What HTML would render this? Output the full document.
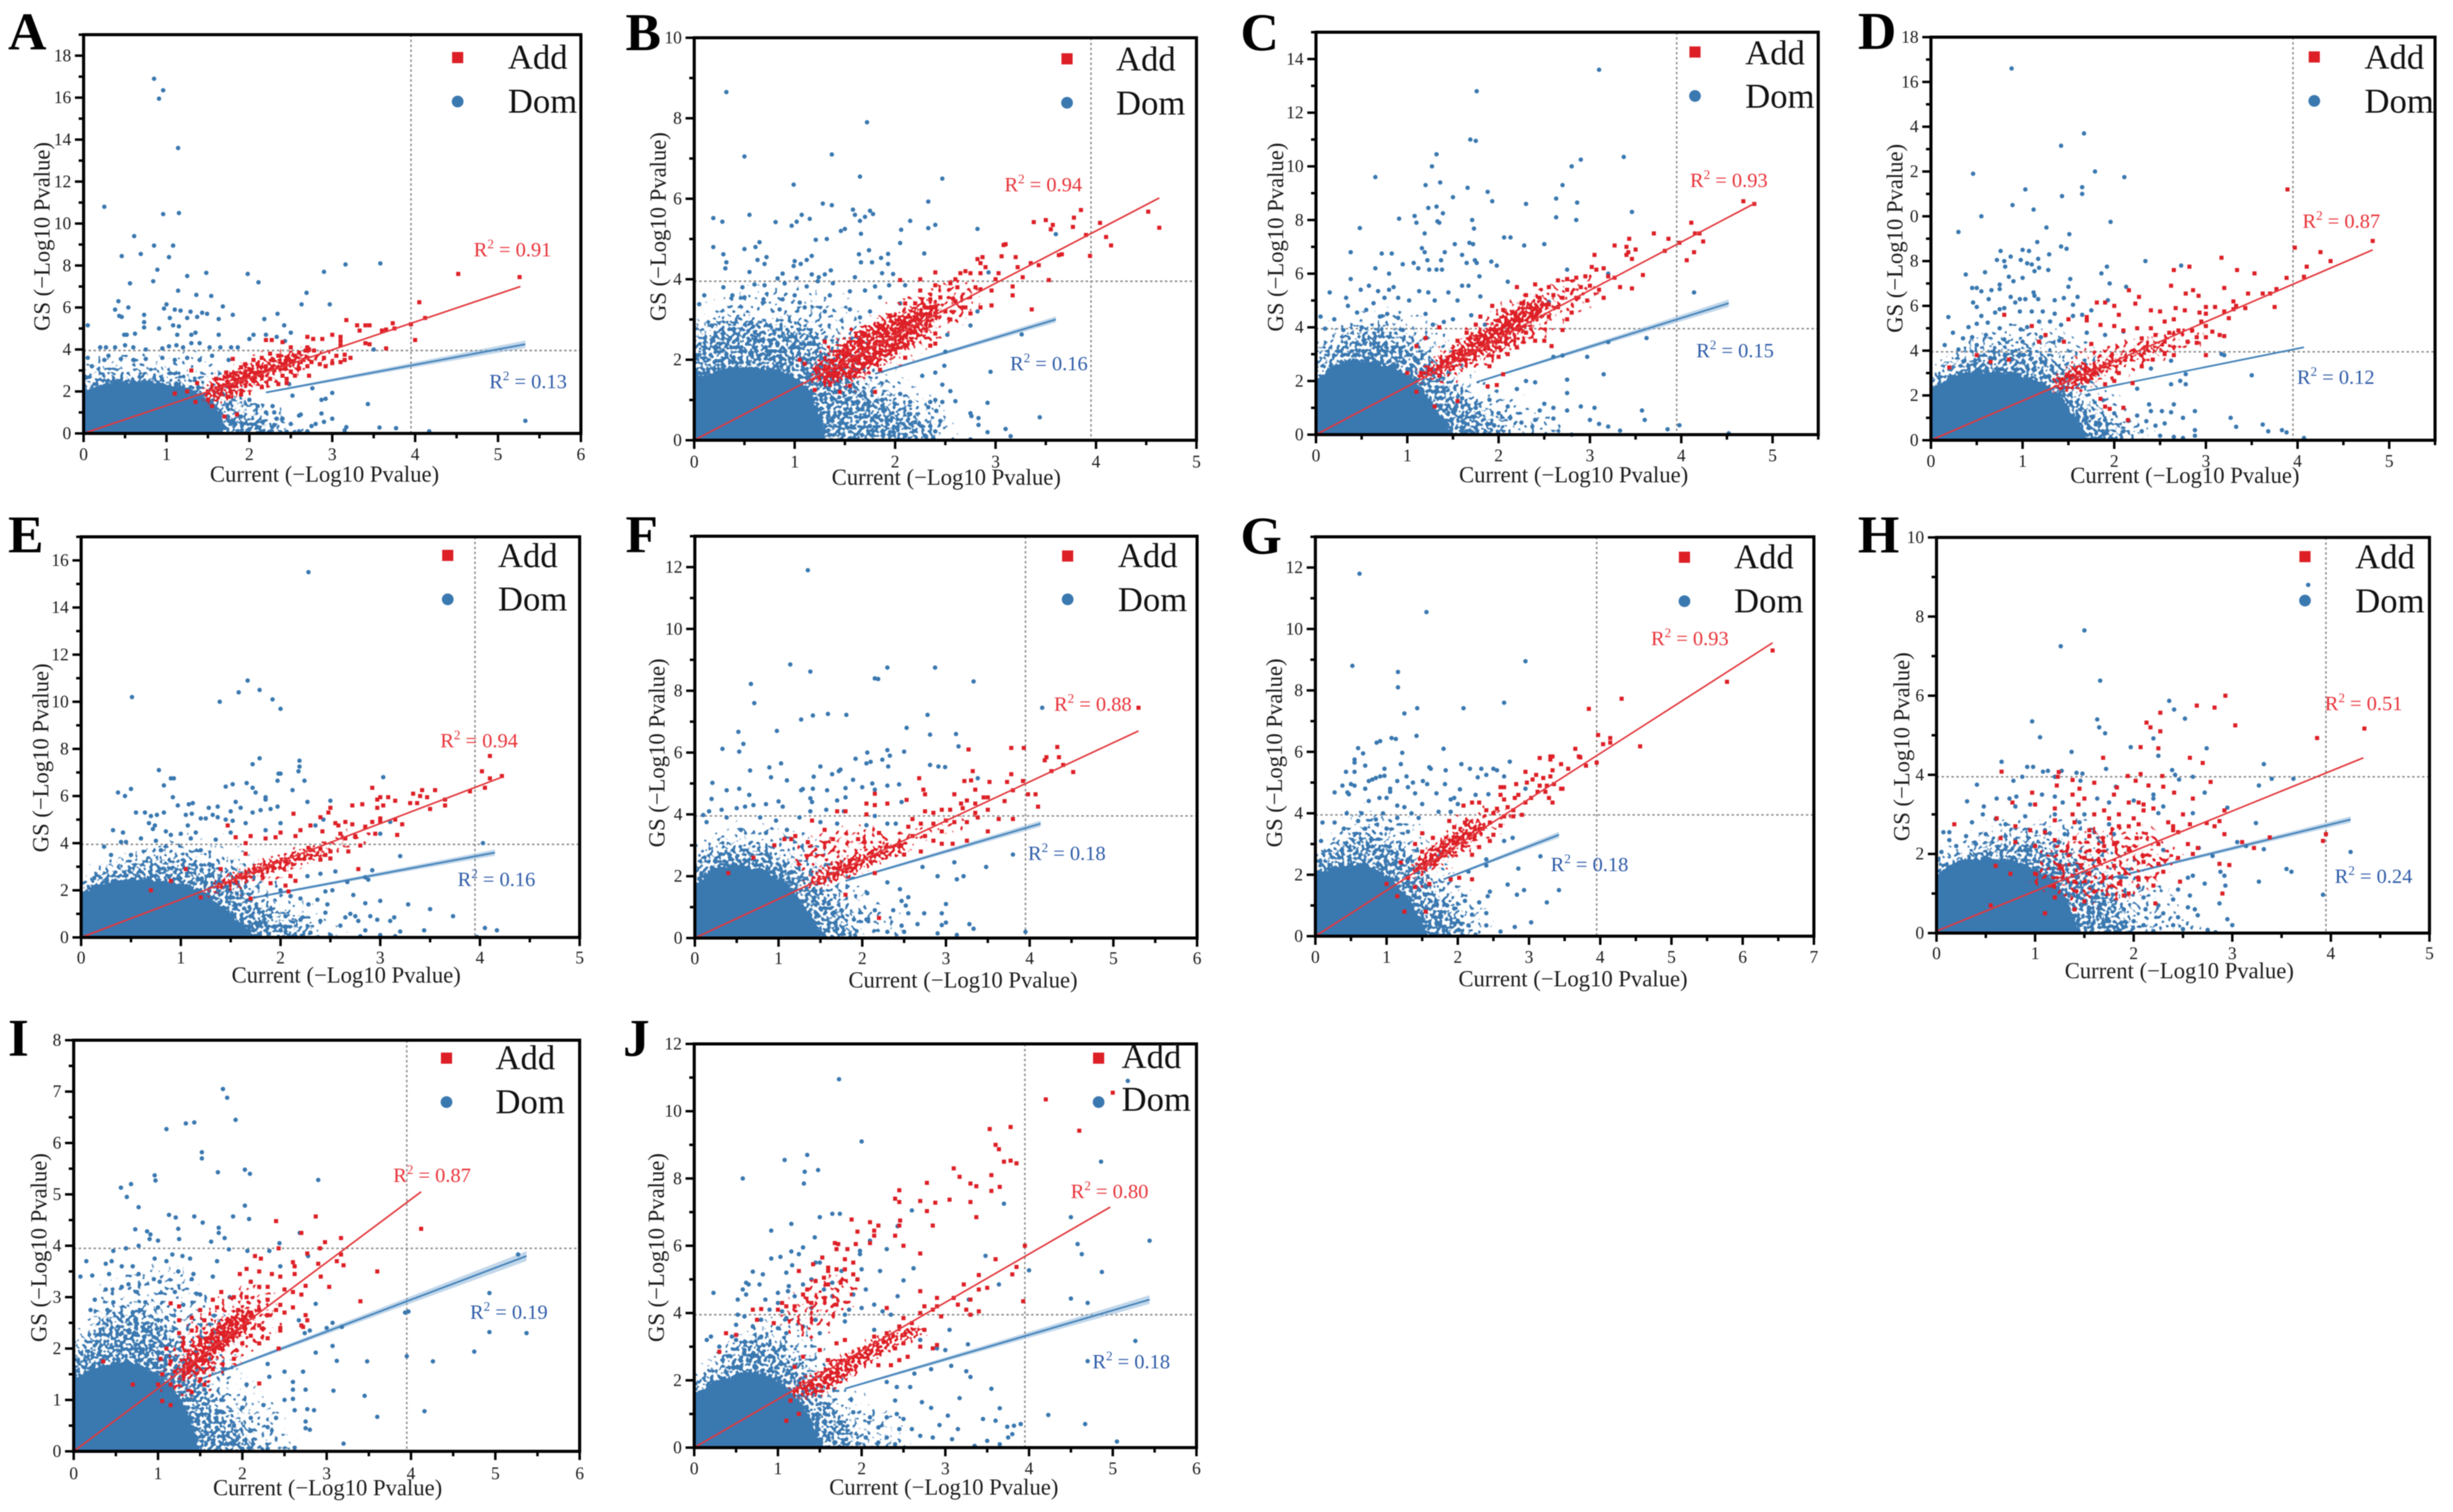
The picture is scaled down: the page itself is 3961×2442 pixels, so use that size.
<!DOCTYPE html>
<html lang="en">
<head>
<meta charset="utf-8">
<title>GS vs Current association scatter panels</title>
<style>
html,body{margin:0;padding:0;background:#fff;}
#figure{display:block;width:3961px;height:2442px;background:#fff;filter:blur(0.7px);font-family:"Liberation Serif",serif;}
</style>
</head>
<body>
<svg id="figure" xmlns="http://www.w3.org/2000/svg" width="3961" height="2442" viewBox="0 0 3961 2442">
<defs>
<filter id="stipple-fringe" x="-15%" y="-15%" width="130%" height="130%" color-interpolation-filters="sRGB">
<feGaussianBlur in="SourceAlpha" stdDeviation="16" result="soft"/>
<feTurbulence type="fractalNoise" baseFrequency="0.14" numOctaves="1" seed="17" result="t"/>
<feColorMatrix in="t" type="matrix" values="0 0 0 0 0 0 0 0 0 0 0 0 0 0 0 0 0 0 1 0" result="n"/>
<feComposite in="soft" in2="n" operator="arithmetic" k1="0" k2="0.36" k3="1" k4="-0.95" result="m"/>
<feComponentTransfer in="m" result="mask"><feFuncA type="linear" slope="14" intercept="0"/></feComponentTransfer>
<feFlood flood-color="#3a78b0"/>
<feComposite in2="mask" operator="in"/>
</filter>
<filter id="stipple-halo" x="-15%" y="-15%" width="130%" height="130%" color-interpolation-filters="sRGB">
<feGaussianBlur in="SourceAlpha" stdDeviation="20" result="soft"/>
<feTurbulence type="fractalNoise" baseFrequency="0.17" numOctaves="1" seed="11" result="t"/>
<feColorMatrix in="t" type="matrix" values="0 0 0 0 0 0 0 0 0 0 0 0 0 0 0 0 0 0 1 0" result="n"/>
<feComposite in="soft" in2="n" operator="arithmetic" k1="0" k2="0.5" k3="1" k4="-0.95" result="m"/>
<feComponentTransfer in="m" result="mask"><feFuncA type="linear" slope="14" intercept="0"/></feComponentTransfer>
<feFlood flood-color="#3a78b0"/>
<feComposite in2="mask" operator="in"/>
</filter>
<filter id="stipple-core" x="-15%" y="-15%" width="130%" height="130%" color-interpolation-filters="sRGB">
<feGaussianBlur in="SourceAlpha" stdDeviation="7" result="soft"/>
<feTurbulence type="fractalNoise" baseFrequency="0.17" numOctaves="1" seed="5" result="t"/>
<feColorMatrix in="t" type="matrix" values="0 0 0 0 0 0 0 0 0 0 0 0 0 0 0 0 0 0 1 0" result="n"/>
<feComposite in="soft" in2="n" operator="arithmetic" k1="0" k2="1.1" k3="1" k4="-0.95" result="m"/>
<feComponentTransfer in="m" result="mask"><feFuncA type="linear" slope="14" intercept="0"/></feComponentTransfer>
<feFlood flood-color="#3a78b0"/>
<feComposite in2="mask" operator="in"/>
</filter>
<filter id="stipple-add" x="-25%" y="-25%" width="150%" height="150%" color-interpolation-filters="sRGB">
<feGaussianBlur in="SourceAlpha" stdDeviation="9" result="soft"/>
<feTurbulence type="fractalNoise" baseFrequency="0.2" numOctaves="1" seed="3" result="t"/>
<feColorMatrix in="t" type="matrix" values="0 0 0 0 0 0 0 0 0 0 0 0 0 0 0 0 0 0 1 0" result="n"/>
<feComposite in="soft" in2="n" operator="arithmetic" k1="0" k2="0.6" k3="1" k4="-1" result="m"/>
<feComponentTransfer in="m" result="mask"><feFuncA type="linear" slope="14" intercept="0"/></feComponentTransfer>
<feFlood flood-color="#dd1f26"/>
<feComposite in2="mask" operator="in"/>
</filter>
<filter id="stipple-add-sparse" x="-25%" y="-25%" width="150%" height="150%" color-interpolation-filters="sRGB">
<feGaussianBlur in="SourceAlpha" stdDeviation="14" result="soft"/>
<feTurbulence type="fractalNoise" baseFrequency="0.14" numOctaves="1" seed="9" result="t"/>
<feColorMatrix in="t" type="matrix" values="0 0 0 0 0 0 0 0 0 0 0 0 0 0 0 0 0 0 1 0" result="n"/>
<feComposite in="soft" in2="n" operator="arithmetic" k1="0" k2="0.4" k3="1" k4="-0.95" result="m"/>
<feComponentTransfer in="m" result="mask"><feFuncA type="linear" slope="14" intercept="0"/></feComponentTransfer>
<feFlood flood-color="#dd1f26"/>
<feComposite in2="mask" operator="in"/>
</filter>
</defs>
</svg>
<script>
/* ---------- chart values (x = Current, y = GS) ---------- */
const xTicksA=[0,1,2,3,4,5,6];const yTicksA=[0,2,4,6,8,10,12,14,16,18];const yLabelsA=['0','2','4','6','8','10','12','14','16','18'];
const xTicksB=[0,1,2,3,4,5];const yTicksB=[0,2,4,6,8,10];const yLabelsB=['0','2','4','6','8','10'];
const xTicksC=[0,1,2,3,4,5];const yTicksC=[0,2,4,6,8,10,12,14];const yLabelsC=['0','2','4','6','8','10','12','14'];
const xTicksD=[0,1,2,3,4,5];const yTicksD=[0,2,4,6,8,10,12,14,16,18];const yLabelsD=['0','2','4','6','8','0','2','4','16','18'];
const xTicksE=[0,1,2,3,4,5];const yTicksE=[0,2,4,6,8,10,12,14,16];const yLabelsE=['0','2','4','6','8','10','12','14','16'];
const xTicksF=[0,1,2,3,4,5,6];const yTicksF=[0,2,4,6,8,10,12];const yLabelsF=['0','2','4','6','8','10','12'];
const xTicksG=[0,1,2,3,4,5,6,7];const yTicksG=[0,2,4,6,8,10,12];const yLabelsG=['0','2','4','6','8','10','12'];
const xTicksH=[0,1,2,3,4,5];const yTicksH=[0,2,4,6,8,10];const yLabelsH=['0','2','4','6','8','10'];
const xTicksI=[0,1,2,3,4,5,6];const yTicksI=[0,1,2,3,4,5,6,7,8];const yLabelsI=['0','1','2','3','4','5','6','7','8'];
const xTicksJ=[0,1,2,3,4,5,6];const yTicksJ=[0,2,4,6,8,10,12];const yLabelsJ=['0','2','4','6','8','10','12'];

const addFitA=[[0,0],[5.27,7]];const domFitA=[[2.2,1.95],[5.33,4.25]];const r2A=['0.91','0.13'];
const addFitB=[[0,0],[4.63,6.02]];const domFitB=[[1.8,1.65],[3.6,3]];const r2B=['0.94','0.16'];
const addFitC=[[0,0],[4.82,8.65]];const domFitC=[[1.8,2],[4.52,4.9]];const r2C=['0.93','0.15'];
const addFitD=[[0,0],[4.82,8.5]];const domFitD=[[1.7,2.2],[4.07,4.15]];const r2D=['0.87','0.12'];
const addFitE=[[0,0],[4.22,6.8]];const domFitE=[[1.75,1.7],[4.15,3.6]];const r2E=['0.94','0.16'];
const addFitF=[[0,0],[5.3,6.7]];const domFitF=[[1.8,1.85],[4.13,3.7]];const r2F=['0.88','0.18'];
const addFitG=[[0,0],[6.42,9.55]];const domFitG=[[1.8,1.85],[3.42,3.3]];const r2G=['0.93','0.18'];
const addFitH=[[0,.05],[4.33,4.43]];const domFitH=[[1.7,1.35],[4.2,2.87]];const r2H=['0.51','0.24'];
const addFitI=[[0,0],[4.12,5.05]];const domFitI=[[1.5,1.4],[5.37,3.8]];const r2I=['0.87','0.19'];
const addFitJ=[[0,0],[4.97,7.15]];const domFitJ=[[1.8,1.75],[5.44,4.4]];const r2J=['0.80','0.18'];

/* upper outline of the overplotted Dom point mass: solid core, stippled halo, sparse fringe */
const domCoreA=[[0,1.9],[.2,2.3],[.5,2.5],[.9,2.4],[1.2,2.2],[1.4,1.9],[1.55,1.4],[1.65,.8],[1.7,0]];
const domHaloA=[[0,3],[.1,3.4],[.5,3.3],[.9,3.4],[1.2,3.2],[1.5,2.8],[1.8,2],[2.1,1.4],[2.4,.8],[2.6,0]];
const domFringeA=[[0,3.7],[.3,4.1],[1,4.2],[1.6,4.1],[2,2.5],[2.4,1.4],[2.7,.7],[2.9,0]];
const domCoreB=[[0,1.5],[.3,1.8],[.7,1.8],[1,1.6],[1.15,1.2],[1.25,.6],[1.3,0]];
const domHaloB=[[0,2.8],[.1,3.2],[.5,3.3],[.9,3.2],[1.3,3],[1.45,2.4],[1.7,1.6],[2,1.2],[2.3,.9],[2.5,0]];
const domFringeB=[[0,3.4],[.3,3.9],[1,4],[1.6,3.7],[1.9,2.2],[2.3,1.4],[2.6,.9],[2.7,0]];
const domCoreC=[[0,2],[.2,2.6],[.5,2.8],[.8,2.6],[1.05,2.1],[1.2,1.5],[1.35,.8],[1.5,0]];
const domHaloC=[[0,3],[.1,3.6],[.4,4.3],[.8,4.3],[1.1,4],[1.35,3],[1.7,1.7],[2,1],[2.3,0]];
const domFringeC=[[0,3.8],[.3,4.7],[.9,5],[1.4,4.3],[1.8,2.5],[2.3,1.4],[2.7,.8],[2.9,0]];
const domCoreD=[[0,2.2],[.2,2.8],[.5,3.1],[.9,3],[1.2,2.6],[1.4,2],[1.55,1.2],[1.7,0]];
const domHaloD=[[0,3],[.1,3.6],[.4,4.4],[.8,4.8],[1.2,4.5],[1.6,3.5],[1.8,1.9],[2.1,1],[2.4,0]];
const domFringeD=[[0,3.6],[.3,4.8],[.9,5.6],[1.4,5.3],[1.8,4.5],[2.1,2],[2.4,1.1],[2.6,0]];
const domCoreE=[[0,1.9],[.2,2.3],[.6,2.5],[1,2.3],[1.25,1.8],[1.45,1.2],[1.6,.6],[1.75,0]];
const domHaloE=[[0,2.7],[.1,3.2],[.4,3.5],[.8,4],[1.2,3.8],[1.6,3],[1.9,1.7],[2.2,1],[2.5,0]];
const domFringeE=[[0,3],[.4,3.8],[.9,4.6],[1.4,4.5],[1.8,3.6],[2.1,2],[2.5,1.3],[2.8,0]];
const domCoreF=[[0,1.7],[.2,2.2],[.5,2.4],[.8,2.2],[1.1,1.8],[1.25,1.2],[1.4,.6],[1.55,0]];
const domHaloF=[[0,2.7],[.2,3.3],[.5,3.4],[.9,3.3],[1.3,2.7],[1.6,1.9],[1.9,1],[2.1,0]];
const domFringeF=[[0,3.4],[.4,3.9],[1,3.9],[1.5,3.5],[1.9,2.5],[2.2,1.5],[2.5,.7],[2.7,0]];
const domCoreG=[[0,2],[.3,2.3],[.7,2.3],[1,2],[1.25,1.4],[1.45,.7],[1.6,0]];
const domHaloG=[[0,2.9],[.2,3.2],[.5,3.8],[.9,3.7],[1.4,3.1],[1.7,2.2],[2,1.3],[2.2,.5],[2.4,0]];
const domFringeG=[[0,3.2],[.4,4.2],[.9,4.5],[1.5,3.9],[1.9,2.8],[2.3,1.6],[2.5,.8],[2.6,0]];
const domCoreH=[[0,1.3],[.1,1.7],[.4,1.9],[.8,1.8],[1.1,1.5],[1.3,1],[1.45,0]];
const domHaloH=[[0,2],[.3,2.3],[.7,2.7],[1.1,2.6],[1.5,2.1],[1.8,1.3],[2,.7],[2.2,0]];
const domFringeH=[[0,2.2],[.4,3],[1,3.2],[1.6,3],[2,2.2],[2.4,1.2],[2.7,.4],[2.85,0]];
const domCoreI=[[0,1.4],[.2,1.6],[.6,1.75],[.9,1.6],[1.15,1.3],[1.35,.8],[1.5,0]];
const domHaloI=[[0,2.1],[.2,2.7],[.6,3],[1,2.9],[1.35,2.3],[1.6,1.5],[1.9,.9],[2.2,.4],[2.4,0]];
const domFringeI=[[0,2.4],[.3,3.4],[.9,3.8],[1.4,3.7],[1.9,2.7],[2.1,1.5],[2.5,.9],[2.7,0]];
const domCoreJ=[[0,1.6],[.3,2],[.7,2.3],[1,2],[1.25,1.4],[1.4,.8],[1.55,0]];
const domHaloJ=[[0,2.2],[.3,3.1],[.6,3.7],[1,3.5],[1.35,2.8],[1.6,1.8],[1.9,1],[2.2,0]];
const domFringeJ=[[0,2.2],[.4,3.5],[.8,4.1],[1.3,4.2],[1.7,2.8],[2.1,1.6],[2.5,1],[2.7,0]];

/* outline of the overplotted Add cluster and its looser surroundings */
const addCoreA=[[1.35,1.7],[1.5,2.6],[1.75,3.2],[2.1,3.6],[2.5,4],[2.8,4.05],[2.8,3.3],[2.4,2.8],[2.1,2.1],[1.8,1.6],[1.55,1.2]];
const addCoreB=[[1.05,1.6],[1.35,2.3],[1.65,2.9],[2,3.2],[2.35,3.6],[2.55,3.4],[2.4,2.7],[2.05,2.05],[1.65,1.5],[1.3,1.2]];
const addCoreC=[[1.05,2.3],[1.4,3.2],[1.75,4],[2.1,4.8],[2.45,5.3],[2.7,4.9],[2.4,4],[2.1,3.1],[1.7,2.5],[1.3,2],[1.05,1.7]];
const addCoreD=[[1.3,2.9],[1.6,3.6],[1.95,3.8],[2.3,4.4],[2.6,4.8],[2.65,4.1],[2.3,3.6],[2,3],[1.75,2.4],[1.45,2],[1.25,2.1]];
const addCoreE=[[1.2,2],[1.5,2.9],[1.85,3.4],[2.25,3.9],[2.5,4.05],[2.5,3.4],[2.1,2.8],[1.7,2.3],[1.35,1.7],[1.2,1.5]];
const addCoreF=[[1.3,2],[1.6,2.5],[1.95,2.9],[2.3,3.2],[2.6,3.3],[2.6,2.75],[2.25,2.4],[1.9,1.9],[1.55,1.6],[1.3,1.4]];
const addCoreG=[[1.3,2.4],[1.6,3],[1.95,3.6],[2.3,4],[2.5,3.8],[2.35,3.1],[2,2.6],[1.7,2.1],[1.35,1.8]];
const addCoreH=[];
const addCoreI=[[1.15,1.5],[1.35,2.1],[1.65,2.55],[2,2.9],[2.25,2.8],[2.1,2.3],[1.8,1.9],[1.55,1.45],[1.3,1.25]];
const addCoreJ=[[1.05,1.8],[1.4,2.3],[1.75,2.85],[2.1,3.3],[2.4,3.6],[2.75,3.8],[2.8,3.3],[2.4,2.9],[2.1,2.4],[1.8,1.85],[1.5,1.4],[1.2,1.35]];
const addLooseA=[[1.3,1.4],[1.5,2.9],[2,3.9],[2.6,4.4],[3.2,4.2],[3.2,3.3],[2.6,2.5],[2.2,1.8],[1.7,1]];
const addLooseB=[[1,1.4],[1.3,2.5],[1.8,3.3],[2.4,4],[2.9,4.3],[2.9,3.2],[2.5,2.4],[2,1.7],[1.5,1.1]];
const addLooseC=[[1,1.8],[1.4,3.6],[2,5],[2.7,6],[3.2,6.2],[3.2,5.1],[2.8,4.1],[2.4,3.2],[1.9,2.3],[1.3,1.6]];
const addLooseD=[[1.25,2.6],[1.6,4.3],[2.2,4.9],[3,5.4],[3.2,4.4],[2.6,3.5],[2.1,2.6],[1.6,1.9]];
const addLooseE=[[1.2,1.8],[1.6,3.3],[2.2,4.2],[2.9,4.9],[3.1,4.3],[2.6,3.4],[2.1,2.4],[1.6,1.7]];
const addLooseF=[[1,2.2],[1.2,3.3],[1.8,3.8],[2.5,3.6],[3.3,4.2],[3.5,3.6],[2.7,2.9],[2,2.4],[1.4,1.8]];
const addLooseG=[[1.2,2],[1.6,3.3],[2.2,4.3],[2.9,4.6],[2.8,3.7],[2.3,2.8],[1.9,2],[1.4,1.4]];
const addLooseH=[[.8,1.2],[1.1,2.4],[1.7,2.9],[2.3,2.8],[2.6,1.8],[2.1,.8],[1.4,.6]];
const addLooseI=[[1,1.2],[1.1,2.2],[1.5,2.8],[2,3.4],[2.4,3.3],[2.6,2.6],[2.3,2],[1.9,1.5],[1.5,1],[1.1,.9]];
const addLooseJ=[[.9,3.9],[1.3,5],[1.9,5.5],[2.1,4.5],[1.7,3.5],[1.2,2.9]];

/* individually readable points */
const domA=[[.85,16.9],[.91,15.95],[.96,16.35],[1.14,13.6],[.25,10.8],[.96,10.45],[1.15,10.5],[.61,9.4],[.85,8.95],[1.08,8.95],[.69,8.55],[.46,8.45],[1.03,8.4],[.89,7.8],[1.25,7.5],[1.48,7.65],[1.98,7.6],[2.11,7.2],[.56,7.15],[.84,7.25],[2.9,7.7],[3.16,8.05],[3.58,8.1],[1.14,6.8],[1.36,6.6],[1.54,6.55],[2.69,6.7],[.42,6.3],[1,6.15],[.97,5.95],[.54,6],[1.68,6.05],[2.63,6.15],[2.97,6.15],[.38,5.9],[.43,5.6],[.46,5.55],[.73,5.65],[1.1,5.9],[1.17,5.85],[1.29,5.8],[1.43,5.75],[1.49,5.7],[1.37,5.55],[1.25,5.5],[1.04,5.5],[1.8,5.65],[1.63,5.45],[2.18,5.45],[2.34,5.7],[2.42,5.15],[.05,5.15],[.73,5.3],[.73,5.05],[.91,5],[1.08,5.15],[1.15,5.1],[2.5,4.8],[.52,4.7],[.49,4.7],[.62,4.75],[1.13,4.7],[1.3,4.7],[1.35,4.8],[1.63,4.7],[2.05,4.7],[2.2,4.7],[2.33,4.6],[2.43,4.4],[.2,4.1],[.27,4.1],[.38,4.1],[.5,4.2],[.6,4.1],[.75,4],[.95,4.05],[1.03,4.15],[1.12,4.2],[1.2,4.1],[1.3,4.3],[1.4,4.3],[1.52,4.1],[1.65,4.1],[1.78,4.1],[1.86,4.1],[2,4.5],[.3,3.7],[.45,3.55],[.6,3.5],[.75,3.55],[.95,3.6],[1.1,3.5],[1.25,3.6],[1.4,3.5],[1.55,3.7],[1.75,3.5],[.05,3.6],[.1,3.2],[.25,3.5],[3.43,1.4],[3,1.93],[2.92,1.65],[2.87,1.6],[2.76,2.15],[2.52,1.8],[2.48,2.35],[2.87,.95],[2.62,.9],[2.6,.85],[3,.7],[2.9,.55],[2.8,.45],[2.75,.35],[2.5,.45],[2.4,.7],[2.33,.7],[2.3,1],[2.28,1.3],[2.2,1],[2.1,1.3],[2,1.6],[2.3,.4],[3.17,.3],[3.15,.15],[3.57,.28],[3.77,.25],[4.17,.1],[5.33,.6],[2.6,.1],[2.7,.1],[2.45,.08],[3.5,4],[2.1,.3],[1.9,.8],[1.75,.6],[2,.2]];
const addA=[[4.52,7.6],[5.26,7.45],[4.05,6.25],[4.12,5.5],[3.17,5.4],[3.3,5.15],[3.4,5.15],[3.45,5.15],[3.33,4.9],[3.6,4.9],[3.65,4.95],[3.73,5.25],[3.75,5],[3.95,5.2],[4,4.45],[3.65,4.05],[3.4,4.3],[3.45,4.25],[3,4.7],[3.1,4.6],[3.1,4.4],[3.1,4.2],[2.7,4.6],[2.77,4.5],[2.88,4.5],[2.7,4.1],[2.2,4.45],[2.27,4.45],[2.4,4.35],[2.5,4.1],[2.6,3.85],[2.68,3.95],[2.72,4],[2.78,3.95],[2.55,3.7],[2.45,3.6],[2.35,3.7],[2.25,3.8],[2.15,3.6],[2.05,3.5],[1.95,3.3],[1.8,3.55],[1.9,3.15],[2.4,3.3],[2.5,3.4],[2.65,3.5],[2.75,3.4],[2.9,3.6],[3.05,3.7],[3.15,3.75],[3.22,3.6],[3.15,3.5],[3.1,3.4],[3,3.35],[2.92,3.2],[2.85,3.3],[2.7,3.2],[2.6,3.1],[2.5,2.95],[2.4,2.75],[2.3,3],[2.2,3.2],[2.15,2.9],[2.25,2.6],[2.45,2.6],[2.55,2.75],[2.72,2.75],[2.35,2.35],[2.45,2.4],[2.15,2.2],[2.05,2.5],[1.3,3],[1.37,2.4],[1.25,2],[1.1,1.9],[1.35,1.5],[1.5,1.6],[1.6,2.6],[1.72,2.9],[1.5,2],[1.7,.8],[1.85,.9],[1.55,1.3],[1.95,2.9],[2,3.05],[1.85,2.55],[1.75,1.75],[1.9,1.85],[2.1,3.3]];

const domB=[[.32,8.65],[1.72,7.9],[.5,7.05],[1.37,7.1],[1.65,6.55],[2.47,6.5],[.99,6.35],[2.33,5.93],[1.28,5.88],[1.37,5.84],[.55,5.6],[1.07,5.6],[1.15,5.5],[.19,5.52],[.28,5.43],[.81,5.42],[.97,5.33],[1.02,5.43],[1.58,5.73],[1.6,5.6],[1.7,5.55],[1.75,5.7],[1.65,5.45],[1.78,5.62],[2.15,5.45],[2.06,5.23],[2.33,5.27],[2.4,5.35],[2.82,5.25],[1.5,5.25],[1.46,5.2],[1.66,5.13],[1.21,4.98],[1.32,5],[2.05,4.9],[.19,4.8],[.5,4.75],[.65,4.92],[.61,4.8],[.29,4.62],[1.64,4.62],[1.74,4.72],[1.86,4.53],[1.93,4.63],[2.29,4.64],[.32,4.42],[.63,4.48],[.72,4.55],[.7,4.38],[.99,4.33],[1,4.45],[1.06,4.38],[1.12,4.48],[1.17,4.58],[1.66,4.42],[1.77,4.42],[1.93,4.38],[.31,4.27],[.55,4.18],[.88,4.14],[1.17,4.12],[1.24,4.05],[1.3,4.12],[1.36,4.22],[1.6,4.05],[1.87,4.15],[1.98,4.13],[.83,4.02],[.9,3.9],[.7,3.85],[.29,3.8],[.48,3.8],[.6,3.87],[1.02,4.03],[1.12,3.82],[1.23,3.95],[1.38,3.9],[1.7,3.72],[1.8,3.82],[1.94,3.85],[2.1,3.85],[.1,3.6],[.38,3.6],[.5,3.55],[.69,3.5],[.88,3.5],[1,3.6],[1.05,3.42],[1.35,3.6],[1.55,3.7],[1.85,3.55],[.05,3.38],[.85,3.25],[1.1,3.3],[1.3,3.2],[1.55,3.25],[1.65,3.05],[1.75,3.2],[2.05,3.4],[2.82,3.2],[2.93,4.17],[2.75,2.85],[3.26,2.63],[3.6,5.12],[2.52,2.62],[2.5,2.2],[2.95,1.7],[2.49,1.85],[2.4,1.68],[2.27,1.6],[2.47,1.38],[2.55,1.22],[2.6,.97],[2.35,.95],[2.4,1],[2.47,.95],[2.92,.93],[2.33,.82],[2.41,.73],[2.75,.67],[2.76,.6],[2.83,.55],[3.44,.57],[2.45,.48],[2.15,.65],[2,.9],[2.05,1.15],[2.15,.95],[2.2,.45],[2.35,.35],[2.4,.22],[2.83,.38],[2.92,.2],[3.1,.28],[3.15,.1],[2.75,.02],[2.38,.05],[2.3,.1],[1.8,.6],[1.9,.75],[1.7,.9],[1.6,1.2],[1.5,.65],[1.75,.35],[1.95,.2],[2.1,.1]];
const addB=[[4.52,5.68],[4.63,5.28],[3.85,5.72],[3.78,5.53],[3.38,5.42],[3.5,5.47],[3.57,5.35],[3.55,5.24],[3.77,5.3],[4.04,5.4],[3.9,5.1],[4.1,5.05],[4.15,4.84],[3.94,4.58],[3.63,4.6],[3.66,4.62],[3.08,4.85],[3.1,4.87],[3.06,4.57],[3.2,4.55],[2.82,4.5],[2.87,4.55],[2.85,4.4],[2.9,4.3],[3.22,4.3],[3.35,4.4],[3.43,4.35],[3.27,4.05],[3.53,3.98],[2.4,4.17],[2.65,4.15],[2.7,4.2],[2.75,4.15],[2.85,4.15],[3,4],[3.03,4.15],[2.6,4],[2.25,4],[2.05,3.98],[2.4,3.85],[2.55,3.9],[2.62,3.8],[2.8,3.8],[2.85,3.75],[2.96,3.72],[3.17,3.82],[3.17,3.6],[2.25,3.72],[2.35,3.5],[2.45,3.55],[2.6,3.45],[2.7,3.3],[2.75,3.15],[2.85,3.3],[2.96,3.35],[3.36,3.25],[2.2,3.4],[2.3,3.3],[2.4,3.15],[2.5,3.2],[2.55,3],[2.1,3.4],[1.95,3.1],[1.85,2.85],[2.4,2.65],[2.1,2.6],[2.2,2.7],[2.35,2.35],[2.4,2.4],[1.7,2.65],[1.8,2.4],[2,2.25],[2.1,2.05],[1.6,1.6],[1.3,2.45],[1.1,1.9],[1.2,1.25],[1.45,1.2],[1.8,1.2],[1.85,1.75],[1.05,2],[1.55,1.35]];

const domC=[[3.1,13.6],[1.76,12.8],[1.69,11],[1.75,10.95],[1.32,10.45],[1.27,10],[3.37,10.35],[2.9,10.25],[2.8,10],[.65,9.6],[1.36,9.4],[1.2,9.3],[1.66,9.2],[2.7,9.3],[1.5,8.85],[1.88,9.05],[1.93,8.7],[2.63,8.8],[2.86,8.65],[1.32,8.5],[1.23,8.45],[2.3,8.6],[1.39,8.25],[1.08,8.15],[1.1,7.9],[.91,8.05],[1.71,8],[1.33,7.95],[1.35,7.9],[2.63,8.1],[2.85,8],[3.46,8.3],[.48,7.7],[1.19,7.5],[1.73,7.68],[2.06,7.35],[2.13,7.35],[1.68,7.15],[1.72,7.1],[2.28,7.05],[2.5,7.1],[1.52,7.1],[1.16,6.95],[1.19,6.8],[1.41,6.8],[.38,6.8],[.72,6.75],[.83,6.75],[1.6,6.7],[1.65,6.4],[1.74,6.5],[1.76,6.4],[1.92,6.45],[1.98,6.3],[.95,6.35],[1.07,6.4],[1.22,6.5],[1.37,6.5],[.65,6.2],[.8,6],[1.12,6.2],[1.24,6.15],[1.32,6.15],[1.38,6.15],[2.75,6.15],[.38,5.8],[1.79,5.9],[2.1,5.7],[3.2,6],[.15,5.3],[.33,5.1],[.49,5.4],[.58,5.55],[.68,5.35],[.75,5.1],[.8,5.4],[.85,5.5],[.9,5.1],[1.02,5],[1.13,5.35],[1.23,5.3],[1.3,5],[1.45,5.3],[1.55,5],[1.6,5.55],[1.67,5.55],[1.8,5.15],[2.55,4.95],[.35,4.8],[.45,4.55],[.55,4.65],[.63,4.9],[.7,4.4],[.78,4.5],[.9,4.35],[1.2,4.5],[1.28,4.1],[1.4,4.2],[1.5,4.3],[1.7,4.45],[1.85,4.1],[2,4.25],[.05,4.4],[.2,4.3],[.1,3.95],[.3,3.9],[.5,4],[.95,3.9],[4.14,5.3],[3.62,3.6],[3.2,3.45],[2.6,2.9],[2.7,2.95],[2.97,2.9],[3.15,2.25],[2.75,2.05],[2.75,1.55],[2.5,1.15],[2.6,1],[2.9,1.05],[3.05,1],[3.57,.9],[2.75,.9],[2.45,.9],[2.3,2],[2.2,1.7],[2.4,1.95],[3,.55],[3.1,.4],[3.2,.3],[3.6,.55],[3.33,.15],[3.85,.2],[3.98,.35],[4.52,.05],[2.6,.6],[2.4,.55],[2.25,.45],[2,.8],[2.1,1.05],[1.9,1.3],[1.75,1],[1.6,1.35],[1.5,.85],[1.95,.35],[2.8,0]];
const addC=[[4.68,8.7],[4.8,8.6],[4.11,7.9],[4.15,7.5],[4.2,7.5],[4.24,7.2],[4.14,6.8],[4.06,6.5],[3.98,7.15],[3.86,7.3],[3.7,7.5],[3.43,7.3],[3.27,7.05],[3.4,7],[3.42,6.8],[3.4,6.7],[3.5,6.9],[3.46,6.55],[3.82,6.85],[3.58,5.95],[3.46,5.45],[3.33,5.5],[3.05,6.7],[3.02,6.25],[3.07,6.15],[3.15,6.2],[3.2,5.9],[3.27,5.85],[2.95,5.9],[2.85,5.85],[2.75,5.8],[2.65,5.75],[3,5.55],[3.1,5.4],[3.15,5.1],[2.2,5.5],[2.4,5.6],[2.55,5.5],[2.75,5.4],[2.9,5.5],[2.6,5.2],[2.7,5.1],[2.85,5.1],[2.97,5],[2.3,5.2],[2.45,5.1],[2.25,4.9],[2.4,4.7],[2.55,4.85],[2.65,4.75],[2.8,4.55],[2.75,4.3],[2.7,3.9],[2.55,4.4],[2.4,4.4],[2.15,4.55],[2.05,4.65],[2,4.25],[1.93,4.8],[1.8,4.4],[1.65,3.8],[1.75,4.1],[2.3,3.8],[2.5,3.5],[2.4,3.5],[2.58,3.3],[2.2,3.25],[2.1,3],[2,2.9],[1.9,2.55],[2.05,2.25],[1.98,1.85],[1.88,1.8],[1.35,4],[1.1,3.3],[1.2,3.6],[1.55,3.5],[1.35,2.2],[1.1,1.6],[1.3,1.05],[1.55,1.25],[1.15,2.3],[1,2.3]];

const domD=[[.88,16.6],[1.67,13.7],[1.42,13.15],[.46,11.9],[1.79,12],[2.11,11.75],[1.65,11.3],[1.65,11],[1.03,11.2],[1.43,10.9],[.89,10.5],[1.12,10.3],[.55,10],[1.96,9.75],[1.26,9.5],[.3,9.3],[1.51,9.2],[1.16,8.85],[1.42,8.65],[1.48,8.55],[.76,8.45],[1,8.5],[1.07,8.45],[1.17,8.1],[1.29,8.3],[.87,8.2],[.98,8.05],[.72,8.05],[.8,8],[1.05,7.9],[1.1,7.85],[2.34,8],[2.73,7.8],[1.92,7.75],[.81,7.75],[1.13,7.55],[1.28,7.6],[1.18,7.7],[1.86,7.45],[.38,7.4],[.59,7.5],[.85,7.3],[.9,7.1],[1,7.25],[1.52,7.2],[1.95,7],[2.13,6.85],[.45,6.8],[.5,6.8],[.55,6.65],[.66,6.7],[.75,6.75],[.75,6.95],[1.12,6.6],[1.5,6.85],[.87,6.4],[.97,6.3],[1.03,6.3],[.63,6.3],[.46,6.15],[.5,5.95],[.75,5.85],[.8,5.9],[.92,6.15],[1.13,6.45],[1.17,6.3],[1.35,6.25],[1.45,6.35],[1.6,6.4],[1.55,6.05],[1.93,6.25],[.19,5.5],[.55,5.55],[.7,5.7],[.97,5.75],[1.1,5.75],[1.22,5.75],[1.35,5.65],[1.55,5.55],[1.75,5.8],[.41,5.05],[.5,5.2],[.62,5.25],[.75,5],[.98,4.95],[1.05,5.05],[1.18,5.3],[1.3,5.3],[1.42,5.15],[1.65,5.6],[.24,4.8],[.35,4.55],[.45,4.6],[.6,4.7],[.8,4.5],[1,4.4],[1.2,4.6],[1.4,4.45],[1.7,4.8],[1.9,4.7],[2.1,4.85],[.15,4.25],[.3,4.05],[.5,4.25],[3.5,2.9],[3.2,3.8],[3.17,3.85],[2.4,3.2],[2.62,3.55],[2.78,2.95],[2.62,2.5],[2.72,2.65],[2.78,2.5],[2.25,2.3],[2.65,1.6],[2.38,1.6],[2.4,1.3],[2.52,1.3],[2.62,1.25],[2.88,1.3],[2.75,1],[2.25,1.1],[2,1.2],[2.15,.9],[2.35,.85],[2.45,.65],[2.55,.75],[3.27,1],[3.33,.6],[3.62,.7],[3.68,.4],[3.83,.45],[3.88,.35],[4.07,.1],[2.88,.45],[2.88,.2],[2.75,.1],[2.65,.15],[2.5,.2],[2.3,.4],[2.1,.4],[1.9,.3],[1.8,.7],[1.7,1],[1.6,.9],[1.9,.9],[1.85,.1]];
const addD=[[4.82,8.9],[3.89,11.2],[3.97,8.6],[4.25,8.4],[4.36,8],[4.1,7.75],[3.34,7.6],[3.53,7.45],[3.17,8.15],[2.82,7.75],[2.65,7.6],[3.88,7.25],[4.07,7.3],[3.77,6.75],[3.7,6.55],[3.62,6.55],[3.46,6.55],[3.2,6.8],[2.62,6.9],[2.86,6.7],[2.78,6.55],[2.92,6.45],[2.27,6.4],[2.16,6.7],[2.23,6.1],[1.9,6.15],[1.81,6.15],[2,6],[3.75,5.95],[3.43,5.9],[3.3,6.2],[3.33,6],[3,5.95],[3.1,5.95],[3.2,5.75],[3.3,5.85],[2.4,5.8],[2.5,5.75],[2.67,5.9],[2.77,5.8],[2.93,5.7],[3,5.65],[2.05,5.6],[1.7,5.5],[1.7,5.35],[3.25,5.45],[2.65,5.4],[2.55,5.3],[2.95,5.3],[3,5.1],[2.4,5],[2.25,5],[2.45,4.7],[2.6,4.8],[2.7,4.9],[2.85,4.9],[3.07,4.85],[3.15,4.7],[3.2,4.65],[2.9,4.6],[3,4.6],[2.8,4.4],[2.9,4.35],[2.55,4.4],[2.3,4.55],[2.1,4.9],[2,5.1],[1.85,5.15],[1.5,5.4],[.8,5.6],[1.1,5.1],[1.25,4.7],[1.18,4.4],[1.45,4.4],[1.75,4.3],[2.42,3.6],[2.55,3.85],[2.65,3.8],[3,3.8],[2.3,3.3],[2.05,3],[2,2.65],[1.9,2.5],[2.2,2.55],[1.85,1.85],[1.9,1.5],[2.1,1.45],[2.15,.9],[1.95,1.4],[.5,3.8],[.85,3.6],[.65,3.5],[.2,3.25]];

const domE=[[2.28,15.5],[.51,10.2],[1.39,10],[1.58,10.4],[1.67,10.9],[1.79,10.5],[1.92,10.1],[2,9.7],[1.79,7.6],[2.19,7.5],[2.19,7.25],[2.18,7.05],[1.72,7.35],[.78,7.1],[1.98,6.95],[2,6.95],[3.03,6.8],[.9,6.75],[.93,6.75],[.83,6.45],[1.97,6.65],[2.24,6.65],[1.66,6.55],[1.52,6.5],[1.45,6.4],[1.72,6.35],[.37,6.15],[.5,6.3],[.44,6],[1.75,6.15],[2.12,6.25],[.92,5.95],[1.85,5.95],[1.85,5.85],[2.27,5.75],[2.5,5.8],[.97,5.6],[1.08,5.65],[1.12,5.7],[1.37,5.55],[1.55,5.75],[1.97,5.55],[1.6,5.5],[1.28,5.5],[.55,5.3],[.64,5.3],[.7,5.15],[.76,5.2],[.83,5.3],[1.05,5.2],[1.11,5.25],[1.2,5.05],[1.25,5.05],[1.32,5.2],[1.37,5.1],[1.5,5.35],[1.72,5.3],[1.8,5.4],[1.9,5.45],[.68,4.85],[.74,4.75],[.72,4.6],[1.07,4.75],[1.45,5],[1.52,4.95],[1.65,4.85],[2,4.85],[2.35,4.75],[2.43,5],[.32,4.55],[.42,4.45],[.85,4.5],[.9,4.35],[1,4.4],[1.15,4.45],[1.35,4.15],[1.5,4.45],[1.85,4.55],[.4,4.05],[.45,4.05],[.6,4.2],[.75,4.1],[1.1,4.2],[.23,3.85],[.3,3.5],[.5,3.5],[.8,3.7],[1.2,3.7],[3,4.4],[3.1,4.9],[4.03,4],[3.2,3.45],[2.92,2.85],[2.85,2.55],[2.27,2.6],[2.4,2.7],[2.55,2.8],[2.88,2.45],[2.67,2.35],[2.52,2],[2.45,1.95],[2.73,1.8],[2,2],[2.1,1.75],[2.2,1.65],[2.28,1.4],[2.37,1.6],[2.85,1.45],[3,1.55],[3.28,1.4],[3.5,1.2],[3.73,.9],[2.47,1.4],[2.45,1.05],[2.65,.85],[2.7,1],[2.9,.9],[2.97,.75],[3.14,.85],[3.1,.7],[2.78,.7],[2.75,.9],[2.4,.7],[2.2,.75],[2.05,.9],[1.9,1.2],[1.85,.6],[2.6,.5],[2.85,.3],[3.2,.25],[3.44,.3],[4.05,.4],[4.17,.3],[3,.1],[3.15,.05],[3.97,.02],[2.8,.05],[2.5,.1],[2.3,.2],[2,.3],[1.7,.9],[1.55,1.3]];
const addE=[[4.22,6.85],[4.1,7.7],[4.02,7.05],[4.1,6.75],[4.05,6.35],[3.9,6.2],[3.55,6.25],[3.33,6.1],[3.42,6.25],[3.4,6],[3.47,5.95],[3.5,5.45],[3.65,5.85],[3.65,5.6],[3.37,5.7],[3.3,5.7],[2.92,6.35],[3,5.95],[3.08,5.95],[2.97,5.85],[3.03,5.6],[3.15,5.8],[2.97,5.5],[3,5.05],[3.15,5],[2.72,5.6],[2.82,5.65],[2.55,4.85],[2.65,4.9],[2.72,4.8],[2.85,4.7],[2.92,4.9],[3,4.9],[3.22,4.8],[3.17,4.35],[2.5,5.5],[2.48,5.3],[2.13,5.25],[2.4,5.1],[2.3,4.75],[2.2,4.55],[2.42,4.5],[2.58,4.75],[2.6,4.4],[2.75,4.3],[2.65,4.2],[2.8,3.9],[2.95,4.4],[2,4.45],[1.85,4.2],[1.95,4.25],[2.15,4.3],[1.65,4],[1.7,4.3],[1.55,4.25],[1.47,4.75],[2.28,3.8],[2.4,3.75],[2.5,3.65],[2.68,3.65],[2.4,3.3],[2.45,3.5],[2.5,3.35],[1.65,3.55],[2.1,2.6],[2.15,2.4],[2.05,2.2],[2.78,2.9],[2.08,1.95],[1.9,2.3],[1.7,1.65],[.7,2],[1.2,1.7],[1.05,2.9],[.9,2.4],[1.4,2.9]];

const domF=[[1.35,11.9],[1.14,8.85],[1.38,8.62],[2.3,8.75],[2.87,8.75],[2.15,8.4],[2.19,8.38],[3.33,8.3],[.67,8.22],[.71,7.6],[4.15,7.45],[1.27,7.07],[1.41,7.2],[1.59,7.25],[1.81,7.22],[2.78,7.22],[2.53,6.8],[.98,6.7],[.52,6.67],[2.81,6.58],[3.12,6.6],[.58,6.28],[3.15,6.2],[.33,6.12],[.53,6.03],[2.06,6],[2.3,6.08],[2.5,6.03],[2.33,5.9],[1.92,5.8],[2.24,5.77],[2.05,5.65],[2.1,5.7],[1.03,5.65],[1.5,5.55],[2.81,5.6],[2.91,5.55],[2.99,5.53],[2.31,5.55],[.66,5.42],[.89,5.52],[1.74,5.45],[1.64,5.3],[1.72,5.4],[.91,5.2],[1.42,5.22],[1.1,5.1],[3.38,5.17],[1.89,5.12],[.21,5.02],[.38,4.78],[.53,4.83],[1.29,4.82],[1.27,4.78],[1.41,4.83],[1.58,4.78],[1.8,4.85],[2,4.88],[2.12,5],[2.15,4.8],[2.44,4.97],[2.3,4.93],[.65,4.63],[.2,4.5],[1.38,4.52],[1.4,4.4],[1.7,4.45],[1.8,4.55],[2.47,4.4],[1,4.42],[.7,4.3],[.85,4.33],[.5,4.2],[.17,4.1],[.1,3.98],[.32,4.15],[.6,4.25],[1.05,4.25],[1.38,4.1],[1.57,4.15],[1.78,4.1],[2.15,3.95],[.14,3.75],[.38,3.9],[.78,3.9],[.97,3.8],[1.25,3.9],[1.5,3.75],[1.7,3.7],[2.05,3.65],[2.3,3.7],[2.4,3.7],[.55,3.5],[.85,3.4],[1.1,3.5],[3.8,2.7],[3.48,2.3],[2.72,2.3],[3.1,2.45],[2.9,2],[3.21,2],[3.13,1.9],[2.3,1.8],[2.45,1.58],[2.55,1.32],[2.47,1.2],[2.06,1.45],[3,1.1],[2.52,1.05],[2.37,.9],[2.55,.8],[2.95,.8],[2.74,.8],[2.15,.9],[1.9,.6],[2.05,.6],[3,.5],[3.33,.3],[3.28,.45],[2.95,.42],[3.95,.2],[2.47,.4],[2.66,.45],[3.13,.1],[2.9,.15],[2.5,.2],[2.3,.2],[1.75,.9],[1.6,1.1],[1.7,.3]];
const addF=[[5.3,7.45],[4.33,6.18],[3.78,6.15],[3.93,6.15],[3.27,6.1],[4.2,5.85],[4.35,5.85],[4.18,5.75],[4.4,5.6],[4.26,5.4],[4.52,5.37],[3.32,5.4],[3.78,5.3],[2.68,5.17],[3.3,5.1],[3.22,5.08],[3.52,5.05],[3.73,5.05],[3.92,5.08],[2.73,4.8],[3.35,4.8],[3.8,4.78],[3.98,4.65],[4.07,4.65],[2.75,4.65],[2.15,4.67],[3.1,4.65],[3.45,4.55],[3.5,4.55],[2.53,4.47],[3.18,4.35],[3.25,4.45],[3.35,4.35],[3.7,4.43],[4.1,4.25],[2.05,4.35],[2.15,4.3],[2.3,4.35],[2.75,4.1],[2.85,4.05],[2.95,4.15],[3.05,4.15],[3.2,4.2],[3.35,4.05],[3.5,4.15],[3.63,3.85],[3.38,3.9],[3.8,3.85],[2.05,4],[1.8,4.1],[1.7,4.1],[2.6,3.85],[2.7,3.7],[2.85,3.7],[3,3.8],[3.1,3.75],[3.25,3.75],[2.55,3.6],[2.6,3.3],[2.75,3.3],[2.95,3.45],[3.5,3.45],[3.25,3.15],[2.85,3.15],[2.95,3.05],[3.08,3.05],[2.45,3],[2.2,3.4],[1.95,3.2],[1.4,3.8],[1.55,3.5],[1.2,3.3],[1.07,3.2],[1.15,3.2],[.95,3],[1.35,3.1],[1.65,3.2],[2.5,2.7],[2.7,2.8],[.7,2.6],[.4,2.1],[1.8,1.4],[2.2,.65],[2.15,2.1],[1.85,2.5]];

const domG=[[.62,11.8],[1.56,10.55],[2.95,8.95],[.52,8.8],[1.16,8.6],[1.16,8.1],[2.65,7.6],[1.43,7.42],[2.08,7.42],[1.25,7.25],[1.07,6.45],[1.13,6.42],[1.42,6.52],[.86,6.3],[.91,6.35],[.6,6.12],[1.8,6.1],[.67,5.95],[1.22,5.97],[.55,5.75],[.55,5.65],[1.2,5.6],[.7,5.55],[2.05,5.6],[1.6,5.5],[1.62,5.45],[2.17,5.45],[2.33,5.45],[2.5,5.45],[2.55,5.4],[2.73,5.68],[.43,5.35],[.55,5.35],[.97,5.45],[1.83,5.4],[.97,5.22],[.91,5.2],[.85,5.15],[.8,5.1],[.75,5.05],[1.15,5.05],[1.28,5.2],[2.4,5.25],[2.28,5.17],[2.65,5.2],[1.37,5],[1.51,5.05],[.38,4.9],[.5,4.95],[.55,4.9],[.7,4.8],[1.05,4.8],[1.3,4.85],[1.57,4.95],[1.82,4.95],[2.03,4.78],[.27,4.68],[.45,4.68],[.47,4.62],[1.05,4.7],[1.7,4.65],[2.25,4.6],[2.43,4.62],[2.95,4.8],[.75,4.4],[.9,4.5],[1,4.5],[1.4,4.65],[1.9,4.45],[1.95,4.5],[1.15,4.25],[1.25,4.2],[1.5,4.3],[2,4.3],[.44,4],[.65,4],[.95,4],[1.35,4],[1.73,4.05],[1.9,4.05],[.1,3.7],[.27,3.7],[.6,3.75],[.85,3.8],[1.15,3.85],[1.45,3.85],[.4,3.5],[.7,3.5],[1,3.5],[1.3,3.4],[.08,3.1],[2.65,3.1],[2.77,3.2],[3.16,2.6],[2.85,2.2],[2.4,2.5],[2.4,2.3],[2.15,2.1],[2.7,1.68],[2.93,1.5],[2.83,1.35],[3.42,1.5],[3.25,1.1],[3.03,.45],[2.8,.3],[2.6,.15],[2.45,1.45],[2.42,1.3],[2.1,1.15],[2.3,1.1],[2.4,.75],[2.2,.7],[2,.5],[2.4,.35],[2.15,.35],[1.85,1],[1.95,.9],[2.05,.4],[1.8,.3],[2.25,.05]];
const addG=[[6.42,9.3],[5.78,8.28],[4.3,7.73],[3.84,7.4],[3.97,6.55],[4.04,6.25],[4.14,6.45],[4.14,6.3],[4.56,6.18],[3.65,6.1],[3.7,5.85],[3.72,5.82],[3.15,5.8],[3.3,5.85],[3.33,5.85],[3.3,5.75],[3.45,5.6],[3.55,5.45],[3.8,5.55],[3.95,5.65],[2.95,5.35],[3.33,5.4],[3.1,5.25],[3.2,5.15],[3.3,5.2],[3.05,5.1],[2.97,5],[2.6,4.85],[2.65,4.85],[2.82,4.95],[3.15,4.9],[3.25,4.9],[3.35,4.95],[3.45,4.8],[3.47,4.8],[2.6,4.6],[2.85,4.6],[3.12,4.7],[3.23,4.7],[3.28,4.5],[3.33,4.35],[2.8,4.5],[2.65,4.45],[2.95,4.35],[3.03,4.5],[2.3,4.35],[2.2,4.35],[2.08,4.25],[2.4,4.1],[2.5,4],[2.55,4.15],[2.7,4.2],[2.78,4.1],[2.9,3.95],[2.65,3.9],[2.78,3.9],[2.45,3.7],[2.35,3.5],[2.6,3.6],[2.5,3.3],[2.45,3.1],[1.88,3.75],[1.95,3.55],[2.1,3.7],[1.5,3.35],[1.65,3.2],[1.4,3],[1.5,2.75],[2.3,2.9],[2.2,2.65],[1.9,1.85],[2.2,1.85],[1.2,2.4],[1.3,1.9],[1.4,1.6],[1.6,1.7],[1,1.7],[1.15,1.3],[1.25,.8],[1.55,.8],[2.02,1.9]];

const domH=[[1.5,7.65],[1.26,7.25],[1.66,6.38],[3.77,8.8],[.97,5.35],[1.63,5.4],[1.65,5.2],[1.71,5.05],[1.05,4.95],[2.36,5.87],[2.41,5.65],[2.52,5.42],[2.2,4.92],[1.97,4.7],[2.74,4.67],[2.25,4.48],[1.37,4.58],[.66,4.33],[1.72,4.15],[.92,4.2],[.98,4.2],[1.08,4.08],[1.13,4.1],[1.27,4.1],[1.42,4.05],[1.48,4.03],[2.39,4.12],[2.42,4],[3.32,4.27],[.41,3.75],[.78,3.85],[.87,3.95],[1.2,3.95],[1.46,3.85],[2.46,3.88],[2.6,3.95],[3.4,3.9],[3.62,3.9],[3.27,3.73],[2.72,3.55],[1.82,3.7],[1.07,3.5],[.74,3.4],[.81,3.45],[1.2,3.45],[2.2,3.5],[2.2,3.4],[1.63,3.4],[1.75,3.3],[.31,3.33],[.48,3.2],[.61,3.4],[.8,3.2],[.95,3.25],[1.28,3.3],[2,3.35],[2.3,3.2],[2.95,3.17],[.47,3],[.6,2.88],[1.2,3],[1.5,3],[2.25,3.03],[2.6,3.03],[3.24,2.78],[.36,2.8],[.7,2.75],[.9,2.95],[1.45,2.8],[1.75,2.75],[.07,2.55],[.13,2.55],[.3,2.45],[.5,2.5],[.7,2.45],[1.1,2.6],[1.3,2.5],[1.6,2.55],[.13,2.35],[.4,2.25],[.9,2.1],[1.2,2.2],[.05,2.05],[.2,2.2],[1.8,2.5],[2.3,2.1],[2.66,2.15],[3.05,2.3],[3.32,2.12],[3.14,2.2],[4.2,2.05],[2.8,1.95],[2.88,1.55],[2.92,1.45],[3.55,1.62],[3.6,1.55],[3.27,1.3],[2.93,1.2],[2.72,1.25],[3.92,.97],[2.55,1.4],[2.6,1.45],[2.45,1.1],[2.57,.95],[2.4,.85],[2.87,.75],[2.55,.65],[2.62,.6],[2.25,.7],[2.3,.5],[2.45,.4],[2.65,.45],[2.95,.35],[3,.2],[2.4,.2],[2.5,.1],[2.75,.08],[2.83,.02],[2.05,1.15],[2.1,.9],[2.12,.6],[2,.3],[1.9,.6],[1.7,.8],[1.55,.4],[1.75,.3],[1.9,.15],[2.1,.2],[2.2,.05]];
const addH=[[2.93,6],[2.64,5.75],[2.82,5.7],[2.27,5.57],[4.34,5.17],[2.13,5.32],[2.17,5.2],[3.03,5.25],[2.27,5.1],[3.86,4.93],[2.07,4.7],[2.25,4.67],[1.69,4.43],[2.57,4.43],[2.7,4.3],[.66,4.08],[1.24,4.07],[2.07,4.02],[1.94,3.97],[2.29,3.97],[1.23,3.95],[1.38,3.87],[2.02,3.85],[2.78,3.82],[1.22,3.73],[1.45,3.65],[1.6,3.8],[2.15,3.73],[1.83,3.68],[2.3,3.7],[1.8,3.5],[2.41,3.55],[.97,3.55],[1.38,3.5],[1.44,3.25],[1.5,3.4],[.77,3.3],[1,3.25],[2.6,3.4],[1.95,3.3],[2.05,3.3],[2.1,3.25],[2.2,3.15],[2.92,3.1],[2.1,3.1],[1.85,3],[1.2,3.15],[1.6,3],[1.7,3.1],[1.38,3],[1.75,2.9],[2,2.9],[2.5,3],[2.57,2.75],[2.35,2.8],[2.4,2.7],[2.87,2.83],[2.74,2.78],[2.82,2.7],[.18,2.75],[.61,2.9],[1.2,2.85],[1.4,2.8],[1.55,2.6],[1.85,2.7],[1.95,2.7],[2.05,2.75],[.8,2.7],[.95,2.6],[1.1,2.55],[2.4,2.6],[2.45,2.55],[2.92,2.5],[3.95,2.5],[3.92,2.33],[.65,2.4],[.8,2.3],[1,2.2],[1.2,2.35],[1.4,2.4],[1.55,2.45],[1.7,2.2],[1.8,2.25],[2.03,2.4],[2.25,2.25],[2.55,2.25],[2.65,2.15],[3.1,2.3],[3.22,2.15],[3.38,2.42],[2.6,2],[2.45,1.9],[1.5,1.9],[1.65,1.8],[1.8,1.7],[1.95,2.1],[2.1,1.8],[2.25,1.75],[2.87,1.75],[2.97,1.72],[.6,1.7],[.75,1.5],[1,1.5],[1.25,1.7],[1.4,1.3],[1.55,1.5],[1.7,1.4],[1.85,1.25],[2.05,1.35],[2.3,1.55],[2.47,1.3],[2.2,1.2],[1.95,1],[1.6,1.05],[1.5,.8],[2.9,1],[2.22,.75],[1.4,.6],[1.1,.5],[.55,.7],[1.2,.9],[1.9,.95]];

const domI=[[1.77,7.05],[1.82,6.88],[1.92,6.45],[1.33,6.38],[1.43,6.4],[1.1,6.27],[1.52,5.82],[1.52,5.7],[.96,5.37],[.97,5.27],[.56,5.13],[.68,5.2],[.63,4.95],[2.03,5.48],[2.09,5.4],[1.71,5.43],[2.9,5.28],[.77,4.75],[2.03,4.78],[1.13,4.6],[1.21,4.55],[1.43,4.57],[1.89,4.57],[2.08,4.52],[1.53,4.45],[.73,4.32],[.87,4.28],[.91,4.22],[1.24,4.33],[1.72,4.35],[1.72,4.25],[2.68,4.25],[.9,4.13],[1,4.1],[1.25,4.13],[1.79,4.15],[1.63,4.08],[2.44,4.05],[.77,4],[.47,3.9],[.62,3.95],[1.84,3.93],[2.06,3.9],[2.32,3.9],[1.17,3.83],[1.29,3.8],[.96,3.75],[1.1,3.7],[1.38,3.75],[1.7,3.7],[2.45,3.6],[.15,3.7],[.38,3.65],[.45,3.7],[.57,3.6],[.7,3.6],[1.24,3.5],[1.42,3.45],[1.65,3.4],[2.78,3.8],[.08,3.4],[.22,3.42],[.42,3.45],[.77,3.45],[.95,3.35],[1.02,3.3],[1.4,3.35],[2.1,3.3],[.57,3.2],[.65,3.25],[.75,3.1],[.38,3.15],[1.2,3.1],[1.5,3.05],[1.85,3],[.25,2.95],[.47,2.9],[.85,2.9],[1,2.8],[1.3,2.85],[.2,2.75],[.4,2.75],[.7,2.7],[1.1,2.6],[2.87,2.87],[3.97,2.72],[2.67,2.55],[3.07,2.5],[3.18,2.42],[2.8,2.35],[3,2.4],[2.74,2.3],[5.27,3.83],[4.93,3.08],[4.93,2.32],[5.37,2.3],[3.93,2.7],[3.07,2.05],[4.75,1.94],[2.87,1.92],[3.95,1.85],[3.12,1.76],[3.48,1.75],[4.26,1.75],[2.5,1.55],[2.72,1.55],[2.3,1.7],[2.32,1.45],[3.08,1.18],[3.45,1.08],[2.6,1.35],[2.6,1.2],[2.75,1.2],[2.5,1],[2.6,1.02],[2.77,.82],[2.85,.8],[4.16,.78],[2.62,.8],[2.25,.9],[2.4,.65],[3.6,.67],[2.75,.58],[2.75,.45],[2.8,.42],[3.2,.15],[2.62,.07],[2.3,.47],[2.3,.05],[2.1,.65],[2.1,.4],[1.9,.5],[1.9,.2],[1.7,.75],[1.75,1],[1.55,1.2],[1.6,.5],[2,.85],[2.05,1.3],[2,.05]];
const addI=[[4.12,4.33],[2.4,4.48],[2.87,4.57],[2.7,4.25],[3.17,4.15],[2.98,4.07],[2.43,3.95],[2.92,3.95],[3.17,3.83],[2.77,3.85],[2.15,3.8],[2.22,3.75],[3.12,3.7],[3.2,3.62],[2.6,3.68],[2.62,3.6],[2.9,3.65],[3.6,3.5],[2.05,3.55],[2.2,3.5],[2.35,3.45],[2.45,3.4],[2.93,3.4],[1.97,3.45],[2.1,3.3],[2.2,3.2],[2.3,3.2],[2.62,3.45],[3.03,3.2],[2.75,3.22],[2.5,3.15],[2.6,3.1],[3.4,2.92],[2.7,3.05],[1.75,3.1],[1.9,3],[2.05,3],[1.65,2.95],[1.7,2.8],[2.3,2.95],[2.45,2.85],[2.5,2.7],[2.4,2.75],[2.6,2.8],[1.15,2.88],[1.25,2.82],[1.5,2.75],[1.95,2.75],[2.1,2.7],[2.2,2.75],[2.3,2.65],[2.75,2.65],[2.77,2.55],[1.25,2.55],[1.4,2.6],[1.55,2.55],[1.85,2.55],[2.05,2.5],[2.2,2.45],[2.45,2.4],[2.7,2.45],[2.72,2.42],[1.25,2.3],[1.4,2.35],[1.9,2.3],[2.1,2.25],[2.3,2.2],[2.45,2.35],[1.1,2],[1.3,2.1],[1.6,2.2],[1.75,2],[2,2.1],[2.2,2.1],[2.43,2],[1.03,1.8],[1.15,1.75],[1.55,1.9],[1.9,1.8],[1.05,1.5],[1.2,1.55],[1.65,1.6],[1,1.3],[1.15,1.3],[1.5,1.4],[1.4,1.15],[1.55,1.3],[1.05,.98],[1.15,.9],[2.2,1.32],[.7,1.3],[.35,1.75]];

const domJ=[[1.73,10.95],[5.18,10.9],[2,9.1],[1.35,8.7],[1.08,8.55],[4.86,8.5],[1.48,8.25],[1.32,8.2],[.58,8],[1.31,7.85],[3.7,7.25],[2.6,7.05],[1.65,6.95],[1.74,6.95],[1.5,6.85],[4.5,6.85],[1.16,6.65],[2.43,6.58],[.92,6.45],[1.44,6.25],[5.44,6.15],[2.1,6.15],[4.58,6.05],[1.3,5.95],[1.16,5.83],[1.25,5.75],[2.3,5.9],[1.98,5.85],[1.98,5.75],[4.63,5.75],[3.48,5.7],[.92,5.62],[1.03,5.67],[1.17,5.42],[1.45,5.5],[1.5,5.5],[2.62,5.33],[4,5.27],[4.87,5.22],[.7,5.23],[.82,5.15],[1.1,5.2],[1.76,5.25],[2.22,5.25],[2,5.3],[1.4,5],[1.95,5],[2.5,4.97],[.62,4.9],[.65,4.85],[.78,4.85],[.58,4.7],[1.13,4.8],[1.3,4.85],[1.65,4.9],[2.05,4.7],[3.64,4.85],[.23,4.6],[.62,4.55],[1,4.6],[1.12,4.65],[1.2,4.5],[1.55,4.7],[1.65,4.5],[1.9,4.55],[2.43,4.5],[.52,4.4],[.85,4.4],[1,4.3],[4.5,4.43],[4.7,4.3],[3.28,4.4],[2.15,4.25],[.9,4.1],[1.05,4.05],[1.4,4.15],[1.85,4.1],[2,4.15],[2.25,4.05],[.52,3.95],[.6,3.9],[.8,3.8],[1.1,3.85],[1.45,3.8],[1.8,3.95],[2.35,3.95],[.5,3.65],[.7,3.6],[1,3.55],[1.3,3.6],[1.8,3.75],[2.15,3.5],[3.05,3.5],[.2,3.3],[.45,3.3],[.5,3.2],[.8,3.3],[1.1,3.4],[1.5,3.4],[5.27,3.17],[3.27,3.07],[.15,3.2],[.3,3],[.6,2.9],[2.9,2.95],[3,2.9],[2.7,3.2],[3.07,2.43],[3.25,2.27],[3.3,2.1],[2.83,2.33],[2.63,2.2],[4.7,2.57],[3.55,1.75],[2.58,1.8],[2.42,1.8],[2.3,1.95],[3.17,1.47],[2.4,1.4],[2.72,1.35],[3.65,1.17],[2.83,1.18],[3.03,.95],[2.42,1],[4.23,.97],[4.67,.7],[2.3,.9],[2.5,.85],[3.45,.85],[3.6,.8],[3.9,.7],[3.82,.65],[3.74,.62],[3.15,.55],[2.93,.67],[2.45,.55],[2.6,.55],[5.05,.18],[2.7,.35],[2.85,.3],[3.08,.25],[3.5,.2],[3.35,.05],[3.65,.1],[3.75,.3],[3.8,.4],[2.3,.3],[2.4,.1],[2.2,.15],[2.05,.3],[2.1,.9],[2.2,.6],[1.9,1.05],[1.75,.75],[1.6,1.2]];
const addJ=[[4.2,10.35],[5,10.55],[3.78,9.53],[3.53,9.47],[4.6,9.42],[3.6,9],[3.64,8.87],[3.78,8.53],[3.7,8.5],[3.85,8.45],[3.1,8.3],[3.55,8.1],[3.17,8.05],[3.3,7.85],[2.78,7.87],[3.37,7.77],[3.65,7.75],[2.45,7.65],[3.55,7.63],[2.4,7.4],[2.45,7.3],[3.05,7.37],[2.7,7.33],[2.88,7.28],[3.3,7.3],[2.78,7.03],[3.37,6.85],[1.88,6.78],[2.46,6.75],[2.1,6.7],[2.2,6.6],[2.15,6.45],[2.85,6.6],[2.45,6.6],[2.15,6.3],[1.95,6.42],[2.4,6.3],[1.68,6.08],[1.72,6.05],[1.93,6.05],[2.1,6.08],[2.5,6],[3.95,6],[1.7,5.9],[1.83,5.9],[2.7,5.77],[1.53,5.65],[3.6,5.6],[1.42,5.45],[1.6,5.35],[1.8,5.6],[1.9,5.5],[3.85,5.37],[1.6,5.25],[1.7,5.3],[1.25,5.25],[1.8,5.3],[3.4,5.13],[3.8,5.15],[1.9,5.15],[1.95,5],[1.55,5.05],[1.45,4.95],[3.22,4.85],[1.6,4.85],[1.75,4.9],[1.35,4.7],[3.5,4.75],[3.4,4.7],[2.7,4.65],[3.1,4.45],[1.7,4.25],[1.3,4.55],[1.1,4.2],[1.05,4.3],[1.4,4.3],[2.9,4.45],[3.3,4.4],[3.93,4.35],[2.9,4.2],[3.15,4.25],[2.75,4.2],[1,4.1],[1.2,4.2],[2.3,4.15],[2.85,4.1],[3.25,4.1],[3.4,4.05],[2.95,3.9],[2.7,4],[3.3,3.95],[.8,4.12],[.7,4.1],[.75,3.8],[.95,3.7],[2.5,3.85],[2.6,3.7],[2.75,3.5],[2.45,3.6],[2.3,3.4],[2.15,3.3],[2.5,3.1],[2.7,3],[2.85,2.95],[2.9,3.05],[2.4,2.95],[2.55,2.7],[2.2,2.45],[2.35,2.45],[2.45,2.6],[1.7,3.1],[1.8,3.2],[1.5,2.9],[1.3,2.7],[1.2,2.4],[1.6,2.6],[.5,3.35],[.38,3.4],[.3,2.85],[1.15,1.4],[1.25,1],[1.1,.8]];

/* ---------- page layout ---------- */
const svgNS='http://www.w3.org/2000/svg';
const root=document.getElementById('figure');
const defs=root.querySelector('defs');
const THRESH=3.95;
const BLUE='#3a78b0',RED='#dd1f26';

const layout=[
{id:'A',box:[135,938,56,700],xMax:6,yMax:19,xT:xTicksA,yT:yTicksA,yL:yLabelsA,dom:domA,add:addA,core:domCoreA,halo:domHaloA,fringe:domFringeA,addCore:addCoreA,addLoose:addLooseA,fa:addFitA,fd:domFitA,r2:r2A,band:6,
 letter:[13,80],xt:[524,778],tb:743,yt:[80,382],leg:[739,93,164,820,111,182],ra:[765,414],rd:[790,627]},
{id:'B',box:[1121,1932,61,711],xMax:5,yMax:10,xT:xTicksB,yT:yTicksB,yL:yLabelsB,dom:domB,add:addB,core:domCoreB,halo:domHaloB,fringe:domFringeB,addCore:addCoreB,addLoose:addLooseB,fa:addFitB,fd:domFitB,r2:r2B,band:5,
 letter:[1010,81],xt:[1528,783],tb:755,yt:[1075,366],leg:[1723,95,166,1802,114,185],ra:[1622,309],rd:[1631,598]},
{id:'C',box:[2125,2936,52,702],xMax:5.5,yMax:15,xT:xTicksC,yT:yTicksC,yL:yLabelsC,dom:domC,add:addC,core:domCoreC,halo:domHaloC,fringe:domFringeC,addCore:addCoreC,addLoose:addLooseC,fa:addFitC,fd:domFitC,r2:r2C,band:6,
 letter:[2003,81],xt:[2541,779],tb:745,yt:[2072,383],leg:[2737,84,155,2818,104,174],ra:[2729,302],rd:[2739,577]},
{id:'D',box:[3118,3932,60,711],xMax:5.5,yMax:18,xT:xTicksD,yT:yTicksD,yL:yLabelsD,dom:domD,add:addD,core:domCoreD,halo:domHaloD,fringe:domFringeD,addCore:addCoreD,addLoose:addLooseD,fa:addFitD,fd:domFitD,r2:r2D,band:0,
 letter:[3000,79],xt:[3528,780],tb:754,yt:[3072,385],leg:[3737,92,163,3818,111,182],ra:[3718,368],rd:[3709,620]},
{id:'E',box:[131,936,867,1514],xMax:5,yMax:17,xT:xTicksE,yT:yTicksE,yL:yLabelsE,dom:domE,add:addE,core:domCoreE,halo:domHaloE,fringe:domFringeE,addCore:addCoreE,addLoose:addLooseE,fa:addFitE,fd:domFitE,r2:r2E,band:5,
 letter:[13,892],xt:[559,1587],tb:1556,yt:[78,1224],leg:[723,897,968,804,916,986],ra:[711,1207],rd:[739,1431]},
{id:'F',box:[1122,1933,866,1515],xMax:6,yMax:13,xT:xTicksF,yT:yTicksF,yL:yLabelsF,dom:domF,add:addF,core:domCoreF,halo:domHaloF,fringe:domFringeF,addCore:addCoreF,addLoose:addLooseF,fa:addFitF,fd:domFitF,r2:r2F,band:5,
 letter:[1010,892],xt:[1555,1595],tb:1557,yt:[1073,1216],leg:[1724,898,968,1805,916,987],ra:[1702,1148],rd:[1660,1389]},
{id:'G',box:[2124,2929,867,1512],xMax:7,yMax:13,xT:xTicksG,yT:yTicksG,yL:yLabelsG,dom:domG,add:addG,core:domCoreG,halo:domHaloG,fringe:domFringeG,addCore:addCoreG,addLoose:addLooseG,fa:addFitG,fd:domFitG,r2:r2G,band:5,
 letter:[2003,894],xt:[2540,1593],tb:1555,yt:[2070,1216],leg:[2720,900,971,2800,918,989],ra:[2666,1042],rd:[2504,1407]},
{id:'H',box:[3127,3923,868,1507],xMax:5,yMax:10,xT:xTicksH,yT:yTicksH,yL:yLabelsH,dom:domH,add:addH,core:domCoreH,halo:domHaloH,fringe:domFringeH,addCore:addCoreH,addLoose:addLooseH,fa:addFitH,fd:domFitH,r2:r2H,band:5,
 letter:[3000,892],xt:[3519,1580],tb:1549,yt:[3083,1206],leg:[3722,899,970,3803,918,989],ra:[3754,1147],rd:[3770,1426]},
{id:'I',box:[119,936,1680,2344],xMax:6,yMax:8,xT:xTicksI,yT:yTicksI,yL:yLabelsI,dom:domI,add:addI,core:domCoreI,halo:domHaloI,fringe:domFringeI,addCore:addCoreI,addLoose:addLooseI,fa:addFitI,fd:domFitI,r2:r2I,band:8,
 letter:[13,1705],xt:[529,2415],tb:2389,yt:[75,2015],leg:[721,1709,1780,800,1727,1798],ra:[635,1909],rd:[759,2130]},
{id:'J',box:[1121,1932,1686,2338],xMax:6,yMax:12,xT:xTicksJ,yT:yTicksJ,yL:yLabelsJ,dom:domJ,add:addJ,core:domCoreJ,halo:domHaloJ,fringe:domFringeJ,addCore:addCoreJ,addLoose:addLooseJ,fa:addFitJ,fd:domFitJ,r2:r2J,band:7,
 letter:[1006,1705],xt:[1524,2414],tb:2381,yt:[1072,2015],leg:[1774,1709,1780,1811,1725,1794],ra:[1729,1935],rd:[1764,2210]}
];

function make(tag,attrs,parent,text){
  const el=document.createElementNS(svgNS,tag);
  for(const k in attrs){el.setAttribute(k,attrs[k]);}
  if(text!==undefined){el.textContent=text;}
  parent.appendChild(el);
  return el;
}

function r2Label(parent,x,y,value,color){
  const t=make('text',{x:x,y:y,'font-size':33,fill:color},parent);
  
  
  make('tspan',{},t,'R');
  make('tspan',{dy:-13,'font-size':21},t,'2');
  make('tspan',{dy:13},t,' = '+value);
}

function drawPanel(p){
  const [L,R,T,B]=p.box;
  const sx=v=>L+v/p.xMax*(R-L);
  const sy=v=>B-v/p.yMax*(B-T);
  const g=make('g',{},root);
  
  

  const clip=make('clipPath',{id:'plot-clip-'+p.id},defs);
  make('rect',{x:L,y:T,width:R-L,height:B-T},clip);

  const letter=make('text',{x:p.letter[0],y:p.letter[1],'font-size':86,'font-weight':'bold',fill:'#000'},g,p.id);
  
  

  const dv=make('line',{x1:sx(THRESH),x2:sx(THRESH),y1:T,y2:B,stroke:'#8c8c8c','stroke-width':2.4,'stroke-dasharray':'4 4'},g);
  
  
  const dh=make('line',{x1:L,x2:R,y1:sy(THRESH),y2:sy(THRESH),stroke:'#8c8c8c','stroke-width':2.4,'stroke-dasharray':'4 4'},g);
  
  

  /* Dom fit: translucent confidence wedge that widens toward the far end, then the line */
  const x0=sx(p.fd[0][0]),y0=sy(p.fd[0][1]),x1=sx(p.fd[1][0]),y1=sy(p.fd[1][1]);
  if(p.band>0){
    const pts=[x0+','+(y0-1.5),x1+','+(y1-p.band),x1+','+(y1+p.band),x0+','+(y0+1.5)].join(' ');
    const band=make('polygon',{points:pts,fill:'#8fb6d8','fill-opacity':0.55},g);
    
    
  }
  const fit=make('line',{x1:x0,y1:y0,x2:x1,y2:y1,stroke:'#4684ba','stroke-width':2.8},g);
  
  

  const plotArea=make('g',{'clip-path':'url(#plot-clip-'+p.id+')'},g);
  
  
  const outline=pts=>{
    const list=[(L-60)+','+(B+60),(L-60)+','+sy(pts[0][1])];
    pts.forEach(q=>list.push(sx(q[0])+','+sy(q[1])));
    list.push(sx(pts[pts.length-1][0])+','+(B+60));
    return list.join(' ');
  };
  const fringe=make('polygon',{points:outline(p.fringe),fill:BLUE,filter:'url(#stipple-fringe)'},plotArea);
  
  
  const halo=make('polygon',{points:outline(p.halo),fill:BLUE,filter:'url(#stipple-halo)'},plotArea);
  
  
  const core=make('polygon',{points:outline(p.core),fill:BLUE,filter:'url(#stipple-core)'},plotArea);
  
  

  p.dom.forEach(q=>{
    const c=make('circle',{cx:sx(q[0]),cy:sy(q[1]),r:3.6,fill:BLUE},g);
    
    
  });

  if(p.addLoose.length){
    const al=make('polygon',{points:p.addLoose.map(q=>sx(q[0])+','+sy(q[1])).join(' '),fill:RED,filter:'url(#stipple-add-sparse)'},g);
    
    
  }
  if(p.addCore.length){
    const ac=make('polygon',{points:p.addCore.map(q=>sx(q[0])+','+sy(q[1])).join(' '),fill:RED,filter:'url(#stipple-add)'},g);
    
    
  }
  p.add.forEach(q=>{
    const s=make('rect',{x:sx(q[0])-3.3,y:sy(q[1])-3.3,width:6.6,height:6.6,fill:RED},g);
    
    
  });

  const af=make('line',{x1:sx(p.fa[0][0]),y1:sy(p.fa[0][1]),x2:sx(p.fa[1][0]),y2:sy(p.fa[1][1]),stroke:'#e2383d','stroke-width':2.6},g);
  
  

  const frame=make('rect',{x:L,y:T,width:R-L,height:B-T,fill:'none',stroke:'#000','stroke-width':5},g);
  
  

  p.xT.forEach((v,i)=>{
    const tk=make('line',{x1:sx(v),x2:sx(v),y1:B,y2:B+14,stroke:'#000','stroke-width':4},g);
    
    
    const lb=make('text',{x:sx(v),y:p.tb,'font-size':28,'text-anchor':'middle',fill:'#1c1c1c'},g,String(v));
    
    
    if(v+0.5<=p.xMax){
      const mk=make('line',{x1:sx(v+0.5),x2:sx(v+0.5),y1:B,y2:B+8,stroke:'#000','stroke-width':4},g);
      
      
    }
  });
  const yStep=p.yT[1]-p.yT[0];
  p.yT.forEach((v,i)=>{
    const tk=make('line',{x1:L-14,x2:L,y1:sy(v),y2:sy(v),stroke:'#000','stroke-width':4},g);
    
    
    const lb=make('text',{x:L-20,y:sy(v)+9,'font-size':28,'text-anchor':'end',fill:'#1c1c1c'},g,p.yL[i]);
    
    
    if(v+yStep/2<=p.yMax){
      const mk=make('line',{x1:L-8,x2:L,y1:sy(v+yStep/2),y2:sy(v+yStep/2),stroke:'#000','stroke-width':4},g);
      
      
    }
  });

  const xt=make('text',{x:p.xt[0],y:p.xt[1],'font-size':36.6,'text-anchor':'middle',fill:'#1c1c1c'},g,'Current (\u2212Log10 Pvalue)');
  
  
  const yt=make('text',{x:p.yt[0],y:p.yt[1],'font-size':36.6,'text-anchor':'middle',fill:'#1c1c1c',transform:'rotate(-90 '+p.yt[0]+' '+p.yt[1]+')'},g,'GS (\u2212Log10 Pvalue)');
  
  

  const [mx,my1,my2,tx,ty1,ty2]=p.leg;
  const ls=make('rect',{x:mx-9,y:my1-9,width:18,height:18,fill:RED},g);
  
  
  const lt=make('text',{x:tx,y:ty1,'font-size':56,fill:'#111'},g,'Add');
  
  
  const lc=make('circle',{cx:mx,cy:my2,r:9.5,fill:BLUE},g);
  
  
  const ld=make('text',{x:tx,y:ty2,'font-size':56,fill:'#111'},g,'Dom');
  
  

  r2Label(g,p.ra[0],p.ra[1],p.r2[0],'#e8343a');
  r2Label(g,p.rd[0],p.rd[1],p.r2[1],'#2f5ca8');
}

layout.forEach(drawPanel);
</script>
</body>
</html>
